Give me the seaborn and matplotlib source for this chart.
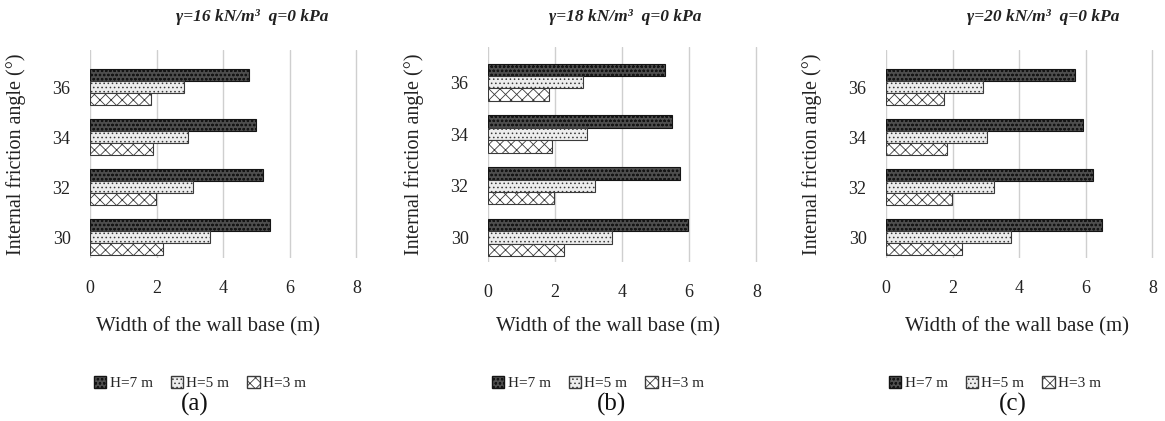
import numpy as np
import pandas as pd
import matplotlib
matplotlib.use("Agg")
import matplotlib.pyplot as plt
import seaborn as sns
from matplotlib.patches import Patch

angles = ['30', '32', '34', '36']
angle_order = ['36', '34', '32', '30']
heights = ['H=7 m', 'H=5 m', 'H=3 m']
titles = ['γ=16 kN/m³  q=0 kPa', 'γ=18 kN/m³  q=0 kPa', 'γ=20 kN/m³  q=0 kPa']
captions = ['(a)', '(b)', '(c)']
xticks = [0, 2, 4, 6, 8]

a_h7 = [5.41, 5.19, 4.98, 4.77]
a_h5 = [3.59, 3.08, 2.95, 2.83]
a_h3 = [2.20, 1.97, 1.89, 1.82]
b_h7 = [5.95, 5.72, 5.50, 5.27]
b_h5 = [3.70, 3.18, 2.95, 2.82]
b_h3 = [2.28, 1.98, 1.90, 1.82]
c_h7 = [6.50, 6.22, 5.92, 5.69]
c_h5 = [3.75, 3.24, 3.02, 2.90]
c_h3 = [2.29, 1.99, 1.82, 1.75]

panels = [(a_h7, a_h5, a_h3), (b_h7, b_h5, b_h3), (c_h7, c_h5, c_h3)]

sns.set_theme(style="white")
plt.rcParams['font.family'] = ['Liberation Serif', 'DejaVu Serif']
plt.rcParams['hatch.linewidth'] = 0.6

fig = plt.figure(figsize=(11.65, 4.21), dpi=100)
W, H = 1165, 421

# axes geometry in pixels: (x0, width, ytop, ybottom)
geo = [(90, 268, 50, 258), (488, 270, 47, 262), (886, 268, 50, 258)]
ylims = [(3.42, -0.74), (3.47, -0.68), (3.42, -0.74)]
title_x = [252, 625, 1043]
xlabel_x = [208, 608, 1017]
cap_x = [195, 612, 1013]
leg_x = [200, 598, 995]

styles = {
    'H=7 m': dict(fc='#4e4e4e', hatch='oooo', ec='#141414'),
    'H=5 m': dict(fc='#ededed', hatch='....', ec='#3a3a3a'),
    'H=3 m': dict(fc='#ffffff', hatch='xxx', ec='#3a3a3a'),
}

for i, (h7, h5, h3) in enumerate(panels):
    x0, w, yt, yb = geo[i]
    ax = fig.add_axes([x0 / W, 1 - yb / H, w / W, (yb - yt) / H])
    df = pd.DataFrame({
        'angle': angles * 3,
        'width': list(h7) + list(h5) + list(h3),
        'H': [heights[0]] * 4 + [heights[1]] * 4 + [heights[2]] * 4,
    })
    sns.barplot(data=df, y='angle', x='width', hue='H', orient='h',
                order=angle_order, hue_order=heights, width=0.72,
                ax=ax, legend=False, zorder=3)
    for cont, hname in zip(ax.containers, heights):
        st = styles[hname]
        for p in cont:
            p.set_facecolor(st['fc'])
            p.set_hatch(st['hatch'])
            p.set_edgecolor(st['ec'])
            p.set_linewidth(0.8)
    ax.set_xlim(0, 8.05)
    ax.set_ylim(*ylims[i])
    ax.set_xticks(xticks)
    ax.set_xticklabels([str(t) for t in xticks])
    for t in xticks:
        ax.axvline(t, color='#cfcfcf', lw=1.0, zorder=0)
    for s in ax.spines.values():
        s.set_visible(False)
    ax.tick_params(axis='x', pad=16, labelsize=13, length=0, colors='#222222')
    ax.tick_params(axis='y', pad=14, labelsize=13, length=0, colors='#222222')
    ax.set_xlabel('')
    ax.set_ylabel('Internal friction angle (°)', fontsize=14.5, color='#222222', labelpad=19)
    fig.text(title_x[i] / W, 1 - 17 / H, titles[i], ha='center', va='center',
             fontsize=12.5, fontweight='bold', fontstyle='italic', color='#222222')
    fig.text(xlabel_x[i] / W, 1 - 327 / H, 'Width of the wall base (m)', ha='center',
             va='center', fontsize=15, color='#222222')
    fig.text(cap_x[i] / W, 1 - 404 / H, captions[i], ha='center', va='center',
             fontsize=18, color='#111111')
    handles = [Patch(facecolor=styles[h]['fc'], hatch=styles[h]['hatch'],
                     edgecolor=styles[h]['ec'], label=h) for h in heights]
    fig.legend(handles=handles, loc='center', ncol=3,
               bbox_to_anchor=(leg_x[i] / W, 1 - 383 / H), frameon=False,
               fontsize=11, handlelength=0.8, handleheight=0.8,
               handletextpad=0.2, columnspacing=1.2)

fig.savefig('out.png', dpi=100, facecolor='white')
